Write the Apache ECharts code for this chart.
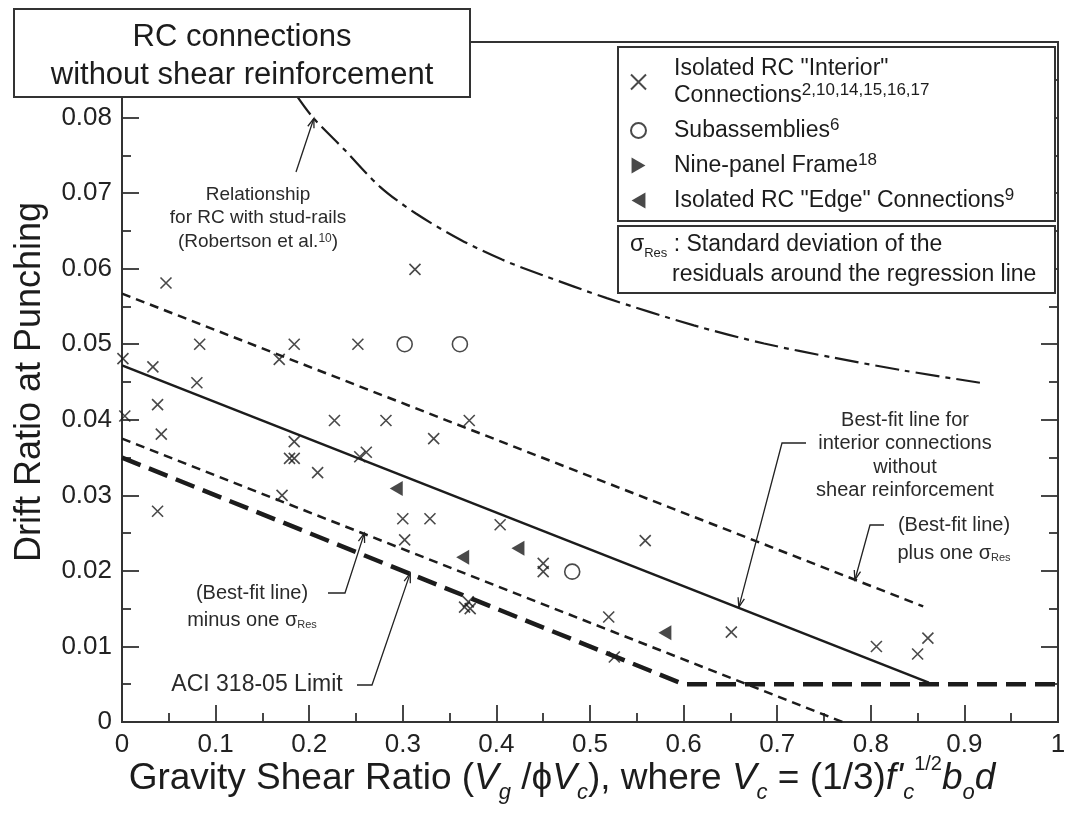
<!DOCTYPE html>
<html>
<head>
<meta charset="utf-8">
<script src="https://cdn.jsdelivr.net/npm/echarts@6/dist/echarts.min.js"></script>
<style>
  html, body { margin: 0; background: #fff; }
  #chart { width: 1066px; height: 814px; }
</style>
</head>
<body>
<div id="chart"></div>
<script>
const FONT = '"Liberation Sans", Arial, Helvetica, sans-serif'
const INK = '#1c1c1c'

// isolated RC "interior" connections (x marks)
const interiorPts = [
  [0.001, 0.0481], [0.003, 0.0405], [0.033, 0.0470], [0.038, 0.0420],
  [0.042, 0.0381], [0.038, 0.0279], [0.047, 0.0581], [0.083, 0.0500],
  [0.080, 0.0449], [0.168, 0.0480], [0.184, 0.0500], [0.184, 0.0371],
  [0.179, 0.0349], [0.184, 0.0349], [0.171, 0.0300], [0.209, 0.0330],
  [0.227, 0.0399], [0.252, 0.0500], [0.254, 0.0351], [0.261, 0.0357],
  [0.282, 0.0399], [0.313, 0.0599], [0.333, 0.0375], [0.371, 0.0399],
  [0.300, 0.0269], [0.329, 0.0269], [0.302, 0.0241], [0.366, 0.0152],
  [0.370, 0.0159], [0.372, 0.0150], [0.404, 0.0261], [0.450, 0.0210],
  [0.450, 0.0199], [0.520, 0.0139], [0.526, 0.0086], [0.559, 0.0240],
  [0.651, 0.0119], [0.806, 0.0100], [0.850, 0.0090], [0.861, 0.0111]
]
const subassemblyPts = [[0.302, 0.0500], [0.361, 0.0500], [0.481, 0.0199]]
const ninePanelPts = []
const edgePts = [[0.293, 0.0309], [0.364, 0.0218], [0.423, 0.0230], [0.580, 0.0118]]

// reference lines
const bestFit = [[0, 0.0472], [0.862, 0.0052]]
const plusSigma = [[0, 0.0567], [0.856, 0.0153]]
const minusSigma = [[0, 0.0375], [0.770, 0]]
const aciLimit = [[0, 0.035], [0.6, 0.005], [1, 0.005]]
const studRailX = [0.186, 0.204, 0.238, 0.276, 0.314, 0.362, 0.406, 0.448, 0.518, 0.611, 0.686, 0.761, 0.836, 0.922]
const studRailY = [0.0830, 0.0800, 0.0757, 0.0708, 0.0673, 0.0638, 0.0612, 0.0592, 0.0561, 0.0525, 0.0501, 0.0482, 0.0465, 0.0448]

const legendText = {
  interior: 'Isolated RC "Interior"\nConnections{sup|2,10,14,15,16,17}',
  sub: 'Subassemblies{sup|6}',
  nine: 'Nine-panel Frame{sup|18}',
  edge: 'Isolated RC "Edge" Connections{sup|9}',
}

const X_NAME = '{t|Gravity Shear Ratio (}{i|V}{s|g}{t| /ϕ}{i|V}{s|c}{t|), where }{i|V}{s|c}{t| = (1/3)}{i|f\'}{s|c}{u|1/2}{i|b}{s|o}{i|d}'

const chart = echarts.init(document.getElementById('chart'))

const tickLine = { color: '#333', width: 1.8 }
const yCommon = {
  type: 'value', min: 0, max: 0.09, interval: 0.01,
  splitLine: { show: false },
  axisTick: { show: true, inside: true, length: 17, lineStyle: tickLine },
  minorTick: { show: true, splitNumber: 2, length: 9, lineStyle: tickLine },
}

const CROSS = 'path://M0,0L10,10M10,0L0,10'
const TRI_RIGHT = 'path://M0,0L13,7.5L0,15Z'
const TRI_LEFT = 'path://M13,0L0,7.5L13,15Z'

chart.setOption({
  animation: false,
  textStyle: { fontFamily: FONT, color: INK },
  grid: {
    left: 122, right: 8, top: 42, bottom: 92,
    show: true, borderColor: '#333', borderWidth: 2,
    containLabel: false, outerBoundsMode: 'none',
  },
  legend: {
    orient: 'vertical', left: 630, top: 55, padding: 0, itemGap: 8, z: 10,
    itemWidth: 15, itemHeight: 16, selectedMode: false,
    data: ['interior', 'sub', 'nine', 'edge'],
    formatter: name => legendText[name],
    textStyle: {
      fontSize: 23, lineHeight: 27, color: INK, fontFamily: FONT, padding: [0, 0, 0, 23],
      rich: { sup: { fontSize: 17, lineHeight: 18, verticalAlign: 'top', color: INK, fontFamily: FONT } },
    },
  },
  xAxis: {
    type: 'value', min: 0, max: 1, interval: 0.1,
    splitLine: { show: false },
    axisLine: { show: true, onZero: false, lineStyle: { color: '#333', width: 2 } },
    axisTick: { show: true, inside: true, length: 17, lineStyle: tickLine },
    minorTick: { show: true, splitNumber: 2, length: 9, lineStyle: tickLine },
    axisLabel: { fontSize: 26, color: '#222', margin: 10, formatter: v => String(+v.toFixed(2)) },
    name: X_NAME, nameLocation: 'middle', nameGap: 32, nameMoveOverlap: false,
    nameTextStyle: {
      padding: [0, 56, 0, 0],
      rich: {
        t: { fontSize: 37, lineHeight: 50, color: INK, fontFamily: FONT },
        i: { fontSize: 37, lineHeight: 50, fontStyle: 'italic', color: INK, fontFamily: FONT },
        s: { fontSize: 22, lineHeight: 22, fontStyle: 'italic', verticalAlign: 'bottom', color: INK, fontFamily: FONT },
        u: { fontSize: 20, lineHeight: 36, verticalAlign: 'top', color: INK, fontFamily: FONT },
      },
    },
  },
  yAxis: [
    Object.assign({}, yCommon, {
      position: 'left',
      axisLine: { show: true, onZero: false, lineStyle: { color: '#333', width: 2 } },
      axisLabel: { fontSize: 26, color: '#222', margin: 10, formatter: v => String(+v.toFixed(3)) },
      name: 'Drift Ratio at Punching', nameLocation: 'middle', nameGap: 74, nameMoveOverlap: false,
      nameTextStyle: { fontSize: 36, color: INK, fontFamily: FONT },
    }),
    Object.assign({}, yCommon, {
      position: 'right',
      axisLine: { show: false, onZero: false },
      axisLabel: { show: false },
    }),
  ],
  series: [
    {
      name: 'aci', type: 'line', data: aciLimit, symbol: 'none', silent: true,
      lineStyle: { color: INK, width: 4.5, type: [20, 9] },
    },
    {
      name: 'minus', type: 'line', data: minusSigma, symbol: 'none', silent: true,
      lineStyle: { color: INK, width: 2.5, type: [9, 6] },
    },
    {
      name: 'plus', type: 'line', data: plusSigma, symbol: 'none', silent: true,
      lineStyle: { color: INK, width: 2.5, type: [9, 6] },
    },
    {
      name: 'best', type: 'line', data: bestFit, symbol: 'none', silent: true,
      lineStyle: { color: INK, width: 2.5 },
    },
    {
      name: 'stud', type: 'line', data: studRailX.map((x, i) => [x, studRailY[i]]),
      symbol: 'none', silent: true, smooth: 0.3,
      lineStyle: { color: INK, width: 2.2, type: [24, 6, 5, 6] },
    },
    {
      name: 'interior', type: 'scatter', data: interiorPts, symbol: CROSS, symbolSize: 11,
      itemStyle: { color: 'rgba(0,0,0,0)', borderColor: INK, borderWidth: 1.6 },
    },
    {
      name: 'sub', type: 'scatter', data: subassemblyPts, symbol: 'circle', symbolSize: 15,
      itemStyle: { color: 'rgba(0,0,0,0)', borderColor: INK, borderWidth: 1.6 },
    },
    {
      name: 'nine', type: 'scatter', data: ninePanelPts, symbol: TRI_RIGHT, symbolSize: [13, 15],
      itemStyle: { color: INK },
    },
    {
      name: 'edge', type: 'scatter', data: edgePts, symbol: TRI_LEFT, symbolSize: [13, 15],
      itemStyle: { color: INK },
    },
  ],
})

// ---- annotations, boxes ----
const toPx = pt => chart.convertToPixel({ xAxisIndex: 0, yAxisIndex: 0 }, pt)

function arrow(path) {
  const p = path[path.length - 2], q = path[path.length - 1]
  const ang = Math.atan2(q[1] - p[1], q[0] - p[0])
  const L = 10, W = 0.33
  const h1 = [q[0] - L * Math.cos(ang - W), q[1] - L * Math.sin(ang - W)]
  const h2 = [q[0] - L * Math.cos(ang + W), q[1] - L * Math.sin(ang + W)]
  const st = { stroke: '#222', lineWidth: 1.3, fill: null }
  return [
    { type: 'polyline', z: 20, silent: true, shape: { points: path }, style: st },
    { type: 'polyline', z: 20, silent: true, shape: { points: [h1, q, h2] }, style: st },
  ]
}

const annRich = {
  sub: { fontSize: 11, verticalAlign: 'bottom', lineHeight: 20, fill: '#333', fontFamily: FONT },
  sup: { fontSize: 12, verticalAlign: 'top', lineHeight: 14, fill: '#333', fontFamily: FONT },
}
function label(text, x, y, size, align) {
  return {
    type: 'text', z: 20, silent: true,
    style: {
      text, x, y, fontSize: size, fontFamily: FONT, fill: '#2a2a2a',
      align: align || 'center', verticalAlign: 'middle', rich: annRich,
    },
  }
}

const graphics = [
  // title box
  { type: 'rect', z: 100, silent: true, shape: { x: 14, y: 9, width: 456, height: 88 },
    style: { fill: '#fff', stroke: '#333', lineWidth: 2 } },
  { type: 'text', z: 101, silent: true,
    style: { text: 'RC connections', x: 242, y: 37, fontSize: 31, fontFamily: FONT, fill: INK, align: 'center', verticalAlign: 'middle' } },
  { type: 'text', z: 101, silent: true,
    style: { text: 'without shear reinforcement', x: 242, y: 75, fontSize: 31, fontFamily: FONT, fill: INK, align: 'center', verticalAlign: 'middle' } },
  // legend boxes (cover the right-axis ticks behind them)
  { type: 'rect', z: 8, silent: true, shape: { x: 618, y: 47, width: 437, height: 174 },
    style: { fill: '#fff', stroke: '#333', lineWidth: 2 } },
  { type: 'rect', z: 8, silent: true, shape: { x: 618, y: 226, width: 437, height: 67 },
    style: { fill: '#fff', stroke: '#333', lineWidth: 2 } },
  { type: 'text', z: 20, silent: true,
    style: { text: 'σ{sub|Res}{t| : Standard deviation of the}', x: 630, y: 245, fontSize: 23, fontFamily: FONT, fill: INK,
      align: 'left', verticalAlign: 'middle',
      rich: { sub: { fontSize: 13, lineHeight: 30, verticalAlign: 'bottom', fill: INK, fontFamily: FONT },
              t: { fontSize: 23, lineHeight: 30, fill: INK, fontFamily: FONT } } } },
  { type: 'text', z: 20, silent: true,
    style: { text: 'residuals around the regression line', x: 672, y: 275, fontSize: 23, fontFamily: FONT, fill: INK,
      align: 'left', verticalAlign: 'middle' } },
  // annotations
  label('Relationship', 258, 195, 19),
  label('for RC with stud-rails', 258, 218, 19),
  label('(Robertson et al.{sup|10})', 258, 242, 19),
  ...arrow([[296, 172], toPx([0.205, 0.0799])]),
  label('Best-fit line for', 905, 420, 20),
  label('interior connections', 905, 443, 20),
  label('without', 905, 467, 20),
  label('shear reinforcement', 905, 490, 20),
  ...arrow([[806, 443], [782, 443], toPx([0.659, 0.0152])]),
  label('(Best-fit line)', 954, 525, 20),
  label('plus one σ{sub|Res}', 954, 553, 20),
  ...arrow([[884, 525], [870, 525], toPx([0.783, 0.0188])]),
  label('(Best-fit line)', 252, 593, 20),
  label('minus one σ{sub|Res}', 252, 620, 20),
  ...arrow([[328, 593], [345, 593], toPx([0.259, 0.0250])]),
  label('ACI 318-05 Limit', 257, 685, 23),
  ...arrow([[357, 685], [372, 685], toPx([0.308, 0.0197])]),
]

chart.setOption({ graphic: { elements: graphics } })
</script>
</body>
</html>
